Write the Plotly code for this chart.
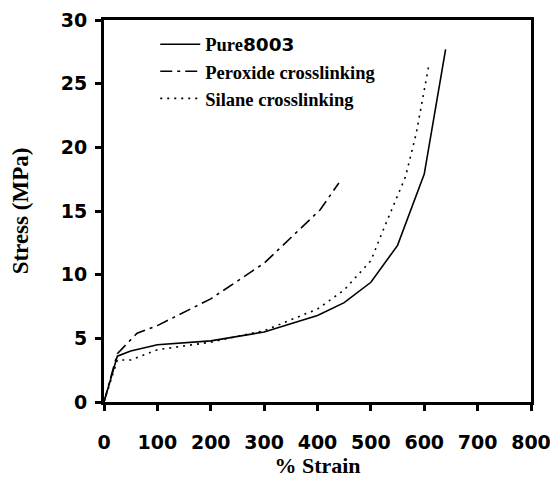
import plotly.graph_objects as go

pure_x = [0, 25, 50, 100, 200, 300, 400, 450, 500, 550, 600, 640]
pure_y = [0, 3.6, 4.0, 4.5, 4.8, 5.5, 6.8, 7.8, 9.4, 12.3, 17.9, 27.7]

perox_x = [0, 25, 62, 100, 200, 300, 350, 405, 440]
perox_y = [0, 3.8, 5.4, 6.0, 8.1, 10.9, 12.9, 15.1, 17.2]

silane_x = [0, 25, 50, 100, 200, 300, 400, 450, 500, 525, 565, 585, 608]
silane_y = [0, 3.3, 3.3, 4.1, 4.7, 5.6, 7.3, 8.8, 11.1, 13.7, 17.7, 21.1, 26.3]

names = ["Pure<span style='font-family:DejaVu Sans'>8003</span>",
         "Peroxide crosslinking", "Silane crosslinking"]

fig = go.Figure()
fig.add_trace(go.Scatter(x=pure_x, y=pure_y, mode="lines", name=names[0],
                         line=dict(color="black", width=1.6, dash="solid")))
fig.add_trace(go.Scatter(x=perox_x, y=perox_y, mode="lines", name=names[1],
                         line=dict(color="black", width=1.6, dash="12px,5px,3px,5px")))
fig.add_trace(go.Scatter(x=silane_x, y=silane_y, mode="lines", name=names[2],
                         line=dict(color="black", width=1.6, dash="2px,5px")))

serif = "Liberation Serif, Times New Roman, serif"
sans = "DejaVu Sans, Verdana, sans-serif"

fig.update_layout(
    width=558, height=478,
    margin=dict(l=96, r=35, t=12, b=84),
    paper_bgcolor="white", plot_bgcolor="white",
    showlegend=True,
    legend=dict(x=0.12, y=0.985, xanchor="left", yanchor="top",
                bgcolor="rgba(0,0,0,0)", borderwidth=0,
                font=dict(family=serif, size=18.5, color="black", weight="bold"),
                tracegroupgap=0, itemwidth=40),
    xaxis=dict(range=[0, 800], tickvals=[0, 100, 200, 300, 400, 500, 600, 700, 800],
               automargin=False,
               showgrid=False, zeroline=False, showline=True, linecolor="black",
               linewidth=3, mirror=True, ticks="outside", ticklen=6, tickwidth=3,
               tickcolor="black", ticklabelstandoff=15,
               tickfont=dict(family=sans, size=19, color="black", weight="bold"),
               title=dict(text="% Strain", standoff=6,
                          font=dict(family=serif, size=22, color="black", weight="bold"))),
    yaxis=dict(range=[0, 30], tickvals=[0, 5, 10, 15, 20, 25, 30],
               automargin=False,
               showgrid=False, zeroline=False, showline=True, linecolor="black",
               linewidth=3, mirror=True, ticks="outside", ticklen=6, tickwidth=3,
               tickcolor="black", ticklabelstandoff=4,
               tickfont=dict(family=sans, size=19, color="black", weight="bold"),
               title=dict(text="Stress (MPa)", standoff=32,
                          font=dict(family=serif, size=23, color="black", weight="bold"))),
)

fig.write_html("out.html")
